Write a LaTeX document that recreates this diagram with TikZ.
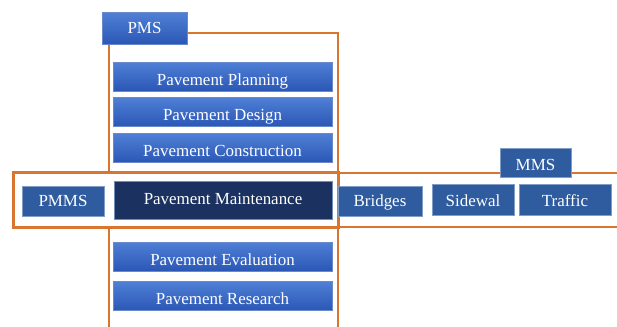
\documentclass[tikz,border=0pt]{standalone}
\usepackage{fontspec}
\setmainfont{Liberation Serif}
\usetikzlibrary{shadows}
\definecolor{frameorange}{HTML}{D8752F}
\definecolor{blueTop}{HTML}{4F7FD6}
\definecolor{blueBot}{HTML}{2A57B5}
\definecolor{flatblue}{HTML}{2F5C9E}
\definecolor{navy}{HTML}{1B3260}
\tikzset{
  base/.style={inner sep=0pt, text=white, font=\fontsize{17}{18}\selectfont},
  % baseline offset below the box centre = (text height - text depth)/2
  baseline at/.style={text height=#1bp+0.5bp, text depth=0.5bp},
  gradbox/.style={base, shade, top color=blueTop, bottom color=blueBot,
    draw=blueBot!70!white, line width=0.4pt, text height=20bp, text depth=3bp,
    drop shadow={shadow xshift=0.8bp, shadow yshift=-0.8bp, opacity=0.25}},
  flatbox/.style={base, fill=flatblue, draw=flatblue!60!white, line width=0.6pt,
    drop shadow={shadow xshift=0.8bp, shadow yshift=-0.8bp, opacity=0.25}},
  darkbox/.style={base, fill=navy, draw=flatblue!70!white, line width=0.6pt},
  thinframe/.style={draw=frameorange, line width=1.5bp},
  thickframe/.style={draw=frameorange, line width=3bp, fill=white}
}
\begin{document}
\begin{tikzpicture}[x=1bp,y=-1bp]
  \useasboundingbox (0,0) rectangle (617,326);
  % PMS frame (open at the bottom)
  \draw[thinframe] (109,340) -- (109,33) -- (338,33) -- (338,340);
  % MMS frame lines
  \draw[thinframe] (338,173) -- (617,173);
  \draw[thinframe] (338,227) -- (617,227);
  % PMMS frame, covering the PMS frame where they cross
  \draw[thickframe] (13,172) rectangle (338,227);

  % PMS column
  \node[gradbox, minimum width=85bp, minimum height=32bp, text height=12bp, text depth=2.8bp] (pms) at (144.5,28.5) {PMS};
  \node[gradbox, minimum width=219bp, minimum height=29bp] (plan) at (222.5,76.5) {Pavement Planning};
  \node[gradbox, minimum width=219bp, minimum height=29bp] (design) at (222.5,112) {Pavement Design};
  \node[gradbox, minimum width=219bp, minimum height=29bp] (constr) at (222.5,148) {Pavement Construction};
  \node[darkbox, minimum width=218bp, minimum height=38bp, text height=12bp, text depth=3.4bp] (maint) at (223,200) {Pavement Maintenance};
  \node[gradbox, minimum width=219bp, minimum height=29bp] (eval) at (222.5,256.5) {Pavement Evaluation};
  \node[gradbox, minimum width=219bp, minimum height=29bp] (research) at (222.5,296) {Pavement Research};

  % PMMS and MMS rows
  \node[flatbox, minimum width=82bp, minimum height=30bp, baseline at=11.4] (pmms) at (63,201) {PMMS};
  \node[flatbox, minimum width=84bp, minimum height=30bp, baseline at=11.4] (bridges) at (380,201) {Bridges};
  \node[flatbox, minimum width=82bp, minimum height=31bp, baseline at=12.6] (sidewal) at (473,199.7) {Sidewal};
  \node[flatbox, minimum width=92bp, minimum height=31bp, baseline at=12.6] (traffic) at (565,199.7) {Traffic};
  \node[flatbox, minimum width=71bp, minimum height=29bp, baseline at=14.4] (mms) at (535.5,162.8) {MMS};
\end{tikzpicture}
\end{document}
